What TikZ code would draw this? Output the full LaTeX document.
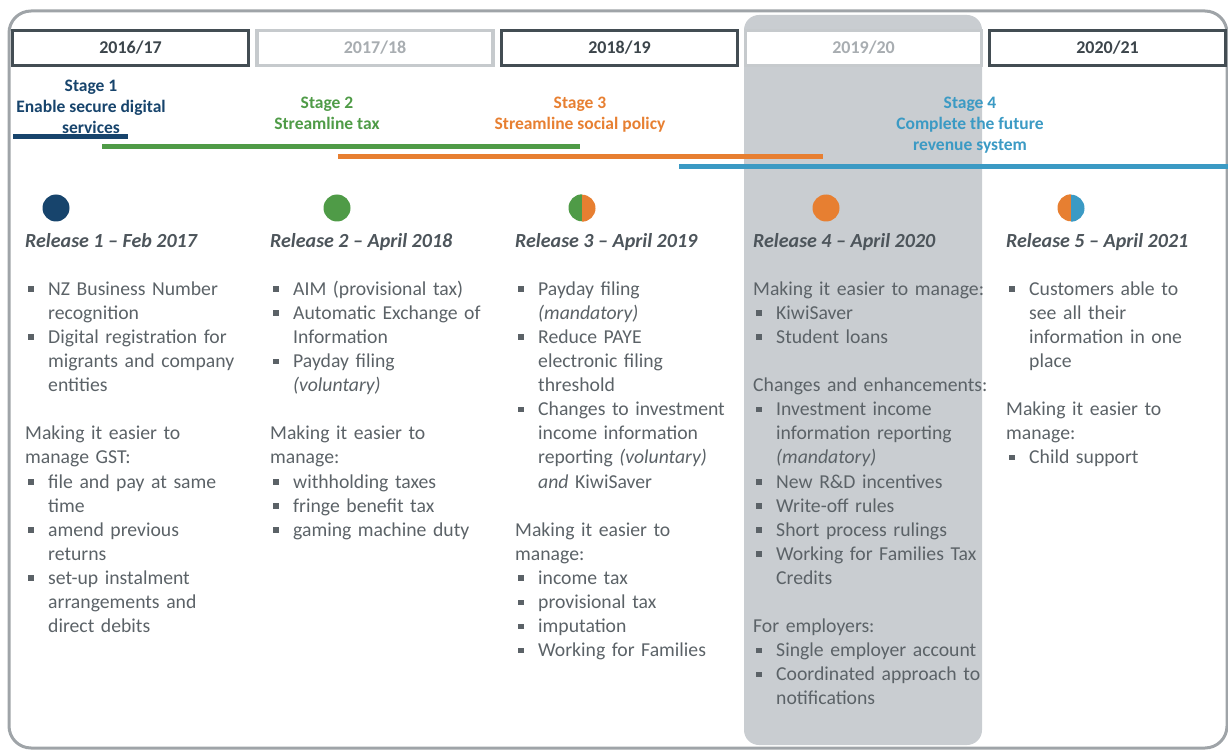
\documentclass[tikz,border=0pt]{standalone}
\usepackage{fontspec}
\setmainfont{Carlito}
\setlength{\parindent}{0pt}
\definecolor{navy}{HTML}{17446C}
\definecolor{sgreen}{HTML}{4F9B47}
\definecolor{sorange}{HTML}{E77F31}
\definecolor{sblue}{HTML}{3B9AC4}
\definecolor{framegray}{HTML}{9FA4A8}
\definecolor{colgray}{HTML}{C9CDD1}
\definecolor{darkbd}{HTML}{434D53}
\definecolor{lightbd}{HTML}{C6CACD}
\definecolor{lighttxt}{HTML}{A8ADB1}
\definecolor{darktxt}{HTML}{3C454B}
\definecolor{txt}{HTML}{5B6267}
\definecolor{head}{HTML}{4D555B}
\newcommand{\bul}{\makebox[23pt][l]{\hspace{3pt}\rule[3.5pt]{5.5pt}{5.5pt}}}
\newcommand{\ind}{\makebox[23pt][l]{}}
\tikzset{
  yearbox/.style={draw, line width=3.2pt, fill=white, minimum width=236pt, minimum height=35pt, inner sep=0pt, font=\bfseries\fontsize{18}{21}\selectfont},
  darkyear/.style={yearbox, draw=darkbd, text=darktxt},
  lightyear/.style={yearbox, draw=lightbd, text=lighttxt},
  stagetxt/.style={anchor=north, inner sep=0pt, align=center, font=\bfseries\fontsize{17.5}{21}\selectfont},
  stagebar/.style={line width=5pt},
  dot/.style={circle, minimum size=27pt, inner sep=0pt},
  relhead/.style={anchor=base west, inner sep=0pt, text=head, font=\bfseries\itshape\fontsize{20}{24}\selectfont},
  col/.style={anchor=north west, inner sep=0pt, text width=240pt, align=left, text=txt, font=\fontsize{19.7}{24.1}\selectfont}
}
\begin{document}
\begin{tikzpicture}[x={(1pt,0pt)}, y={(0pt,-1pt)}]
\useasboundingbox (0,0) rectangle (1228,751);
% highlighted column
\fill[colgray, rounded corners=15pt] (744,15) rectangle (982,745);
% outer frame
\draw[framegray, line width=3pt, rounded corners=22pt] (9,11) rectangle (1227,748);
% year boxes
\node[darkyear] (y1) at (130.5,48) {2016/17};
\node[lightyear] (y2) at (375,48) {2017/18};
\node[darkyear] (y3) at (619.5,48) {2018/19};
\node[lightyear] (y4) at (863.5,48) {2019/20};
\node[darkyear] (y5) at (1107.5,48) {2020/21};
% stages
\node[stagetxt, text=navy] (s1) at (91,76.3) {\strut Stage 1\\Enable secure digital\\services};
\node[stagetxt, text=sgreen] (s2) at (327,93.3) {\strut Stage 2\\Streamline tax};
\node[stagetxt, text=sorange] (s3) at (580,93.3) {\strut Stage 3\\Streamline social policy};
\node[stagetxt, text=sblue] (s4) at (970,93.3) {\strut Stage 4\\Complete the future\\revenue system};
\draw[stagebar, navy] (13,137) -- (128,137);
\draw[stagebar, sgreen] (102,147) -- (580,147);
\draw[stagebar, sorange] (338,157) -- (823,157);
\draw[stagebar, sblue] (679,167) -- (1228,167);
% release dots
\node[dot, fill=navy] (c1) at (56,208) {};
\node[dot, fill=sgreen] (c2) at (337,208) {};
\node[dot] (c3) at (582,208) {};
\fill[sgreen] (c3.north) arc[start angle=90, end angle=270, radius=13.5pt] -- cycle;
\fill[sorange] (c3.south) arc[start angle=-90, end angle=90, radius=13.5pt] -- cycle;
\node[dot, fill=sorange] (c4) at (826,208) {};
\node[dot] (c5) at (1071,208) {};
\fill[sorange] (c5.north) arc[start angle=90, end angle=270, radius=13.5pt] -- cycle;
\fill[sblue] (c5.south) arc[start angle=-90, end angle=90, radius=13.5pt] -- cycle;
% release headings
\node[relhead] (r1) at (25,247.5) {Release 1 – Feb 2017};
\node[relhead] (r2) at (270,247.5) {Release 2 – April 2018};
\node[relhead] (r3) at (515,247.5) {Release 3 – April 2019};
\node[relhead] (r4) at (753,247.5) {Release 4 – April 2020};
\node[relhead] (r5) at (1006,247.5) {Release 5 – April 2021};
% columns
\node[col] (t1) at (25,278.2) {\strut\bul NZ Business Number\\
\ind recognition\\
\bul Digital registration for\\
\ind migrants and company\\
\ind entities\\
\strut\\
Making it easier to\\
manage GST:\\
\bul file and pay at same\\
\ind time\\
\bul amend previous\\
\ind returns\\
\bul set-up instalment\\
\ind arrangements and\\
\ind direct debits};
\node[col] (t2) at (270,278.2) {\strut\bul AIM (provisional tax)\\
\bul Automatic Exchange of\\
\ind Information\\
\bul Payday filing\\
\ind \textit{(voluntary)}\\
\strut\\
Making it easier to\\
manage:\\
\bul withholding taxes\\
\bul fringe benefit tax\\
\bul gaming machine duty};
\node[col] (t3) at (515,278.2) {\strut\bul Payday filing\\
\ind \textit{(mandatory)}\\
\bul Reduce PAYE\\
\ind electronic filing\\
\ind threshold\\
\bul Changes to investment\\
\ind income information\\
\ind reporting \textit{(voluntary)}\\
\ind \textit{and} KiwiSaver\\
\strut\\
Making it easier to\\
manage:\\
\bul income tax\\
\bul provisional tax\\
\bul imputation\\
\bul Working for Families};
\node[col] (t4) at (753,278.2) {\strut Making it easier to manage:\\
\bul KiwiSaver\\
\bul Student loans\\
\strut\\
Changes and enhancements:\\
\bul Investment income\\
\ind information reporting\\
\ind \textit{(mandatory)}\\
\bul New R\&D incentives\\
\bul Write-off rules\\
\bul Short process rulings\\
\bul Working for Families Tax\\
\ind Credits\\
\strut\\
For employers:\\
\bul Single employer account\\
\bul Coordinated approach to\\
\ind notifications};
\node[col] (t5) at (1006,278.2) {\strut\bul Customers able to\\
\ind see all their\\
\ind information in one\\
\ind place\\
\strut\\
Making it easier to\\
manage:\\
\bul Child support};
\end{tikzpicture}
\end{document}
